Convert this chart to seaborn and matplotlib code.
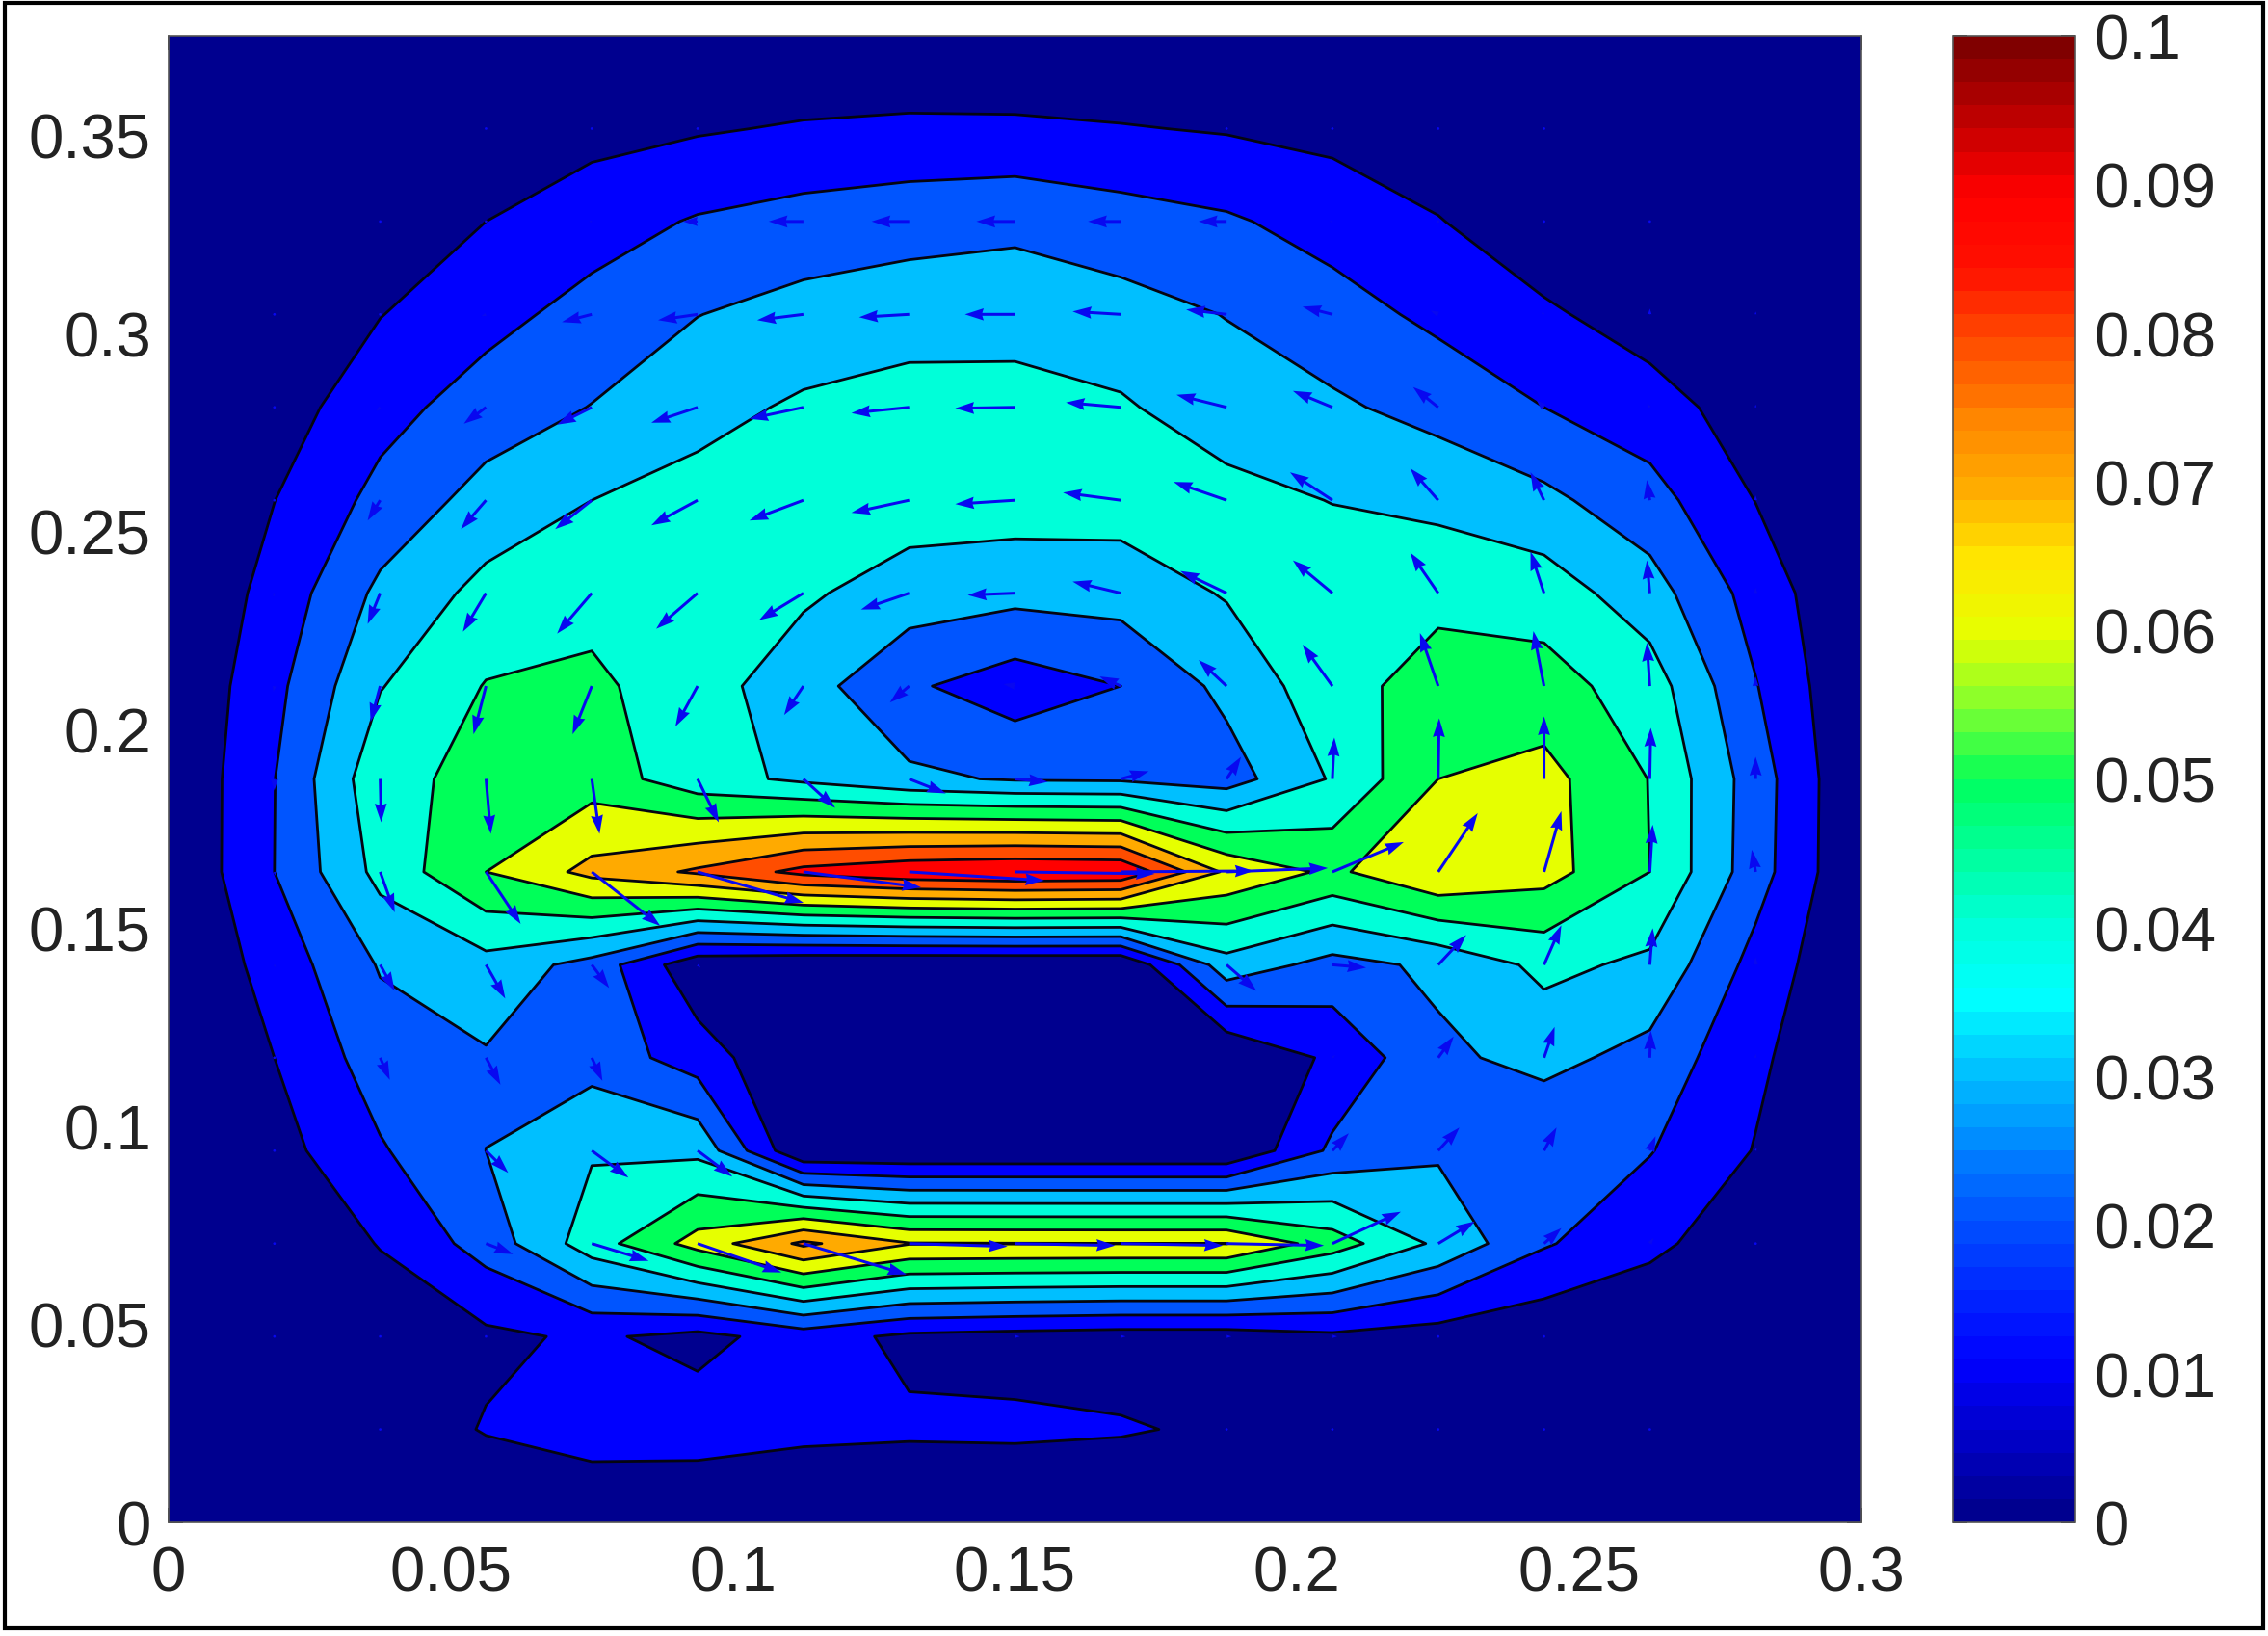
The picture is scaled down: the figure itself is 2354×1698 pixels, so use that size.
import numpy as np
import seaborn as sns
import matplotlib.pyplot as plt
from matplotlib.cm import ScalarMappable
from matplotlib.colors import ListedColormap, Normalize
from matplotlib.patches import Rectangle

# Grid
x_values = np.linspace(0, 0.3, 17)
y_values = np.linspace(0, 0.375, 17)
levels = [0, 0.01, 0.02, 0.03, 0.04, 0.05, 0.06, 0.07, 0.08, 0.09, 0.1]
x_ticks = [0, 0.05, 0.1, 0.15, 0.2, 0.25, 0.3]
x_labels = ["0", "0.05", "0.1", "0.15", "0.2", "0.25", "0.3"]
y_ticks = [0, 0.05, 0.1, 0.15, 0.2, 0.25, 0.3, 0.35]
y_labels = ["0", "0.05", "0.1", "0.15", "0.2", "0.25", "0.3", "0.35"]
bar_ticks = levels
bar_labels = ["0", "0.01", "0.02", "0.03", "0.04", "0.05", "0.06", "0.07", "0.08", "0.09", "0.1"]

# Colour of each band between levels
band_colors = ["#00008f", "#0000ff", "#0055ff", "#00bfff", "#00ffd9", "#00ff59",
               "#e6ff00", "#ffaa00", "#ff4d00", "#ff0000"]
# Colorbar colours read every 0.005
bar_colors = ["#00008f", "#0000c8", "#0000ff", "#0028ff", "#0055ff", "#0088ff", "#00bfff",
              "#00ffff", "#00ffd9", "#00ff99", "#00ff59", "#80ff30", "#e6ff00", "#ffe600",
              "#ffaa00", "#ff8200", "#ff4d00", "#ff1000", "#ff0000", "#c00000", "#800000"]

# Speed, bottom row first
z_rows = [
    [0, 0, 0, 0, 0, 0, 0, 0, 0, 0, 0, 0, 0, 0, 0, 0, 0],
    [0, 0, .0034, .0107, .0153, .015, .0123, .0115, .0118, .0109, .0084, .003, .002, .001, 0, 0, 0],
    [0, .0005, .0035, .008, .0115, .007, .0145, .0078, .0062, .005, .005, .008, .0053, .0025, .0005, 0, 0],
    [0, .0015, .0105, .0241, .0452, .064, .082, .0705, .0703, .0702, .0702, .055, .038, .021, .0125, .003, 0],
    [0, .0061, .019, .03003, .039, .0375, 0, 0, 0, 0, 0, .022, .0285, .021, .0205, .0095, 0],
    [0, .01, .025, .029, .026, .0152, 0, 0, 0, 0, 0, .012, .028, .033, .0266, .012, 0],
    [0, .0139, .0308, .0365, .0263, .0025, .0005, 0, 0, 0, .036, .0265, .032, .0425, .038, .0165, 0],
    [0, .02, .043, .06, .073, .0816, .093, .098, .1, .099, .068, .058, .0695, .0639, .05, .0244, 0],
    [0, .0198, .047, .0529, .0555, .044, .038, .032, .029, .0285, .0255, .041, .06, .0633, .0497, .025, 0],
    [0, .0172, .0395, .0505, .052, .0442, .0342, .0215, .0146, .02, .0327, .0462, .0543, .0541, .045, .0205, 0],
    [0, .0134, .0323, .043, .0467, .0445, .0415, .0352, .0331, .0341, .0408, .0465, .0474, .0453, .0343, .016, 0],
    [0, .0099, .023, .0338, .04, .0436, .0445, .045, .0449, .0445, .0435, .0397, .0373, .0324, .0238, .0098, 0],
    [0, .005, .0165, .0246, .0303, .0367, .0415, .044, .044, .0412, .0345, .0316, .0266, .02, .0143, .005, 0],
    [0, .0025, .0097, .0168, .0235, .0298, .0336, .0357, .0359, .0338, .0297, .0241, .0177, .0116, .0052, .002, 0],
    [0, .0005, .0025, .01, .0156, .0209, .0239, .026, .0277, .0243, .0213, .016, .0105, .003, .0015, .0005, 0],
    [0, 0, .001, .003, .0068, .009, .011, .012, .0118, .0106, .0092, .0072, .003, .001, .0005, 0, 0],
    [0, 0, 0, 0, 0, 0, 0, 0, 0, 0, 0, 0, 0, 0, 0, 0, 0],
]

# Arrow components, bottom row first
u_rows = [
    [0, 0, 0, 0, 0, 0, 0, 0, 0, 0, 0, 0, 0, 0, 0, 0, 0],
    [0, 0, 1, 0, 0, 0, 0, 0, 0, 0, 2, 2, 1, 1, 1, 0, 0],
    [0, -1, 1, 2, 0, 0, 0, 0, 5, 5, 5, 5, 2, 1, 0, 0, 0],
    [0, 1, 0, 28, 59, 87, 107, 102, 104, 106, 101, 71, 38, 18, 4, 1, 0],
    [0, 1, 0, 23, 38, 36, 0, 0, 0, 0, 0, 17, 22, 13, 6, 1, 0],
    [0, 1, 10, 15, 11, 0, 0, 0, 0, 0, 0, 3, 16, 11, 1, 0, 0],
    [0, 1, 15, 20, 18, 3, 0, 0, 0, 0, 31, 35, 29, 18, 3, 0, 0],
    [0, 1, 15, 36, 71, 110, 122, 140, 145, 138, 105, 74, 41, 18, 3, -4, 0],
    [0, 0, 1, 5, 8, 22, 33, 38, 34, 29, 15, 2, 1, 0, 1, 0, 0],
    [0, -1, -10, -13, -20, -23, -20, -20, -12, -22, -29, -31, -19, -11, -3, 0, 0],
    [0, -1, -13, -24, -36, -43, -46, -50, -49, -50, -48, -41, -29, -14, -3, 0, 0],
    [0, -1, -13, -26, -38, -48, -56, -60, -62, -60, -55, -44, -29, -14, -3, 0, 0],
    [0, -1, -4, -23, -36, -48, -56, -60, -62, -57, -52, -41, -26, -8, -3, 0, 0],
    [0, -1, -2, -5, -31, -41, -48, -52, -52, -50, -42, -31, -8, -3, 0, 0, 0],
    [0, 0, -1, -2, -3, -15, -36, -39, -40, -34, -29, -3, -2, -1, -1, 0, 0],
    [0, 0, 0, -1, -1, -1, -1, 0, 0, 0, -1, -1, -1, -1, 0, 0, 0],
    [0, 0, 0, 0, 0, 0, 0, 0, 0, 0, 0, 0, 0, 0, 0, 0, 0],
]
v_rows = [
    [0, 0, 0, 0, 0, 0, 0, 0, 0, 0, 0, 0, 0, 0, 0, 0, 0],
    [0, 0, 0, 0, 0, 0, 0, 0, 0, 0, 0, 0, 0, 0, 0, 0, 0],
    [0, 0, 0, 0, 0, 0, 0, 0, 0, 0, 0, 0, 0, 0, 0, 0, 0],
    [0, 0, 0, -11, -18, -30, -32, -3, -2, -2, -2, 33, 23, 16, 6, 2, 0],
    [0, -2, 0, -23, -28, -27, 0, 0, 0, 0, 0, 18, 24, 24, 15, 3, 0],
    [0, -2, -23, -28, -24, 0, 0, 0, 0, 0, 0, 3, 22, 32, 28, 4, 0],
    [0, -3, -27, -35, -24, -3, 0, 0, 0, 0, -27, -3, 31, 41, 38, 8, 0],
    [0, -4, -42, -54, -56, -32, -16, -9, -2, 1, 4, 31, 61, 63, 49, 23, 0],
    [0, -12, -45, -57, -57, -45, -30, -15, -3, 8, 23, 43, 63, 65, 53, 23, 0],
    [0, -6, -37, -50, -50, -42, -30, -17, 2, 10, 27, 43, 55, 57, 45, 10, 0],
    [0, -4, -32, -40, -42, -37, -28, -17, -2, 12, 23, 34, 42, 43, 34, 6, 0],
    [0, -2, -21, -30, -30, -26, -21, -13, -4, 8, 19, 29, 33, 29, 21, 5, 0],
    [0, -1, -4, -17, -18, -16, -12, -6, -1, 5, 13, 17, 21, 8, 4, 3, 0],
    [0, 0, -1, -2, -8, -6, -6, -3, 0, 3, 5, 8, 4, 2, 6, 3, 0],
    [0, 0, 0, 0, 0, 0, 0, 0, 0, 0, 0, 0, 0, 1, 0, 0, 0],
    [0, 0, 0, 0, 0, 0, 0, 0, 0, 0, 0, 0, 0, 0, 0, 0, 0],
    [0, 0, 0, 0, 0, 0, 0, 0, 0, 0, 0, 0, 0, 0, 0, 0, 0],
]

sns.set_theme(style="white")
plt.rcParams["font.family"] = ["Liberation Sans", "DejaVu Sans"]
W, H = 2354, 1699
fig = plt.figure(figsize=(W / 100, H / 100), dpi=100)
ax = fig.add_axes([175 / W, (H - 1581) / H, 1757 / W, 1543 / H])
cax = fig.add_axes([2027 / W, (H - 1581) / H, 127 / W, 1543 / H])

# Filled contours plus their outlines
X, Y = np.meshgrid(x_values, y_values)
Z = np.array(z_rows)
ax.contourf(X, Y, Z, levels=levels, colors=band_colors, extend="neither")
ax.contour(X, Y, Z, levels=levels[1:-1], colors="#050510", linewidths=2.0)

# Arrows, lengths are in output pixels
U = np.array(u_rows, dtype=float)
V = np.array(v_rows, dtype=float)
empty = (U == 0) & (V == 0)
ax.quiver(X, Y, np.ma.masked_where(empty, U), np.ma.masked_where(empty, V),
          angles="uv", scale_units="dots", scale=1, units="dots", width=3,
          headwidth=4.2, headlength=6.5, headaxislength=6, color="#0808f0", zorder=3)

ax.set_xlim(0, 0.3)
ax.set_ylim(0, 0.375)
ax.set_xticks(x_ticks, x_labels)
ax.set_yticks(y_ticks, y_labels)
ax.tick_params(direction="in", length=11, width=1.2, color="#111111", labelcolor="#222222",
               labelsize=47, top=True, right=True, bottom=True, left=True)
ax.tick_params(axis="x", pad=17)
ax.tick_params(axis="y", pad=13)
for spine in ax.spines.values():
    spine.set_color("#555555")
    spine.set_linewidth(1.2)

# Colorbar in 64 steps
palette = sns.blend_palette(bar_colors, n_colors=64)
bar = fig.colorbar(ScalarMappable(Normalize(0, 0.1), ListedColormap(palette)), cax=cax)
bar.set_ticks(bar_ticks, labels=bar_labels)
cax.tick_params(direction="in", length=11, width=1.2, color="#111111", labelcolor="#222222",
                labelsize=47, left=True, right=True, pad=14)
bar.outline.set_edgecolor("#555555")
bar.outline.set_linewidth(1.2)

# Black frame around the whole picture
fig.add_artist(Rectangle((4.5 / W, (H - 1691) / H), 2344 / W, 1687 / H, transform=fig.transFigure,
                         fill=False, edgecolor="black", linewidth=3))

fig.savefig("out.png", dpi=100)
